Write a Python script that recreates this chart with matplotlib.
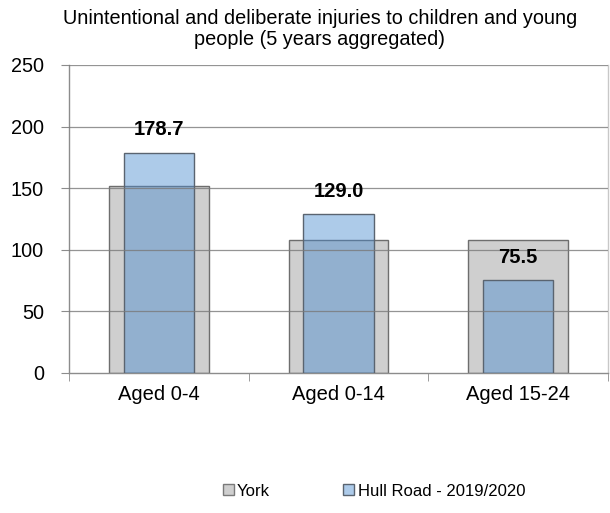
import matplotlib
matplotlib.use("Agg")
import matplotlib.pyplot as plt
from matplotlib.patches import Patch
import numpy as np

categories = ["Aged 0-4", "Aged 0-14", "Aged 15-24"]
york = [152.0, 108.0, 108.0]
hull = [178.7, 129.0, 75.5]
hull_labels = ["178.7", "129.0", "75.5"]
yticks = [0, 50, 100, 150, 200, 250]

plt.rcParams['font.family'] = ['Liberation Sans', 'DejaVu Sans']

fig = plt.figure(figsize=(6.10, 5.13), dpi=100)
ax = fig.add_axes([69/610, 1-373/513, (608-69)/610, (373-65)/513])

x = np.arange(len(categories))
ax.bar(x, york, width=0.556, color='#cfcfcf', edgecolor='#6e6e6e', linewidth=1.0, zorder=2)
ax.bar(x, hull, width=0.39, color=(69/255, 137/255, 207/255, 0.44), edgecolor='#5a6470', linewidth=1.0, zorder=3)

for xi, v, lab in zip(x, hull, hull_labels):
    ax.annotate(lab, (xi, v), xytext=(0, 16.5), textcoords='offset points',
                ha='center', va='center', fontsize=14.5, fontweight='bold', zorder=5)

ax.set_ylim(0, 250)
ax.set_xlim(-0.5, len(categories) - 0.5)
ax.set_yticks(yticks)
ax.set_yticklabels([str(t) for t in yticks], fontsize=14.3)
ax.set_xticks(x)
ax.set_xticklabels(categories, fontsize=14.5)
ax.tick_params(axis='x', length=0, pad=9)
ax.tick_params(axis='y', length=6, color='#8c8c8c', pad=12)
# category boundary ticks
ax.set_xticks(np.arange(len(categories) + 1) - 0.5, minor=True)
ax.tick_params(axis='x', which='minor', length=6, color='#8c8c8c')

for t in yticks[1:]:
    ax.axhline(t, color='#7a7a7a', linewidth=0.9, alpha=0.8, zorder=4)

for s in ['left', 'bottom']:
    ax.spines[s].set_color('#8c8c8c')
    ax.spines[s].set_linewidth(1.0)
ax.spines['top'].set_visible(False)
ax.spines['right'].set_color('#c8c8c8')
ax.spines['right'].set_linewidth(1.0)

fig.text(320/610, 1-29/513, "Unintentional and deliberate injuries to children and young\npeople (5 years aggregated)",
         ha='center', va='center', fontsize=14.3, linespacing=1.1)

handles = [Patch(facecolor='#cfcfcf', edgecolor='#7a7a7a'),
           Patch(facecolor='#adcbea', edgecolor='#5a6470')]
fig.legend(handles, ["York", "Hull Road - 2019/2020"], loc='center', bbox_to_anchor=(374/610, 1-491/513),
           ncol=2, frameon=False, fontsize=12, handlelength=0.65, handleheight=0.65,
           handletextpad=0.2, columnspacing=4.4)

fig.savefig("out.png", dpi=100)
